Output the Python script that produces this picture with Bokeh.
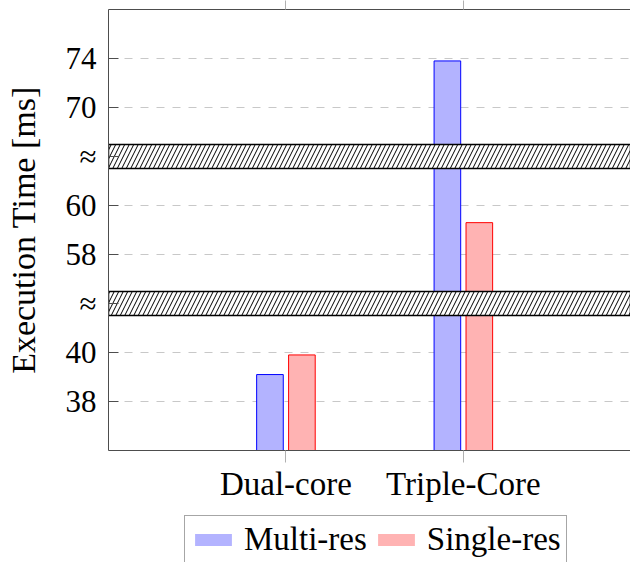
import numpy as np
from bokeh.plotting import figure
from bokeh.layouts import column
from bokeh.models import (FixedTicker, Range1d, LinearAxis, Legend, LegendItem,
                          ColumnDataSource)
from bokeh.embed import file_html
from bokeh.resources import INLINE

# ---- data ----
categories = ["Dual-core", "Triple-Core"]
multi_res = [39.1, 73.8]
single_res = [39.9, 59.3]
tick_labels = ["38", "40", "≈", "58", "60", "≈", "70", "74"]

FONT = "Liberation Serif"
FS_TICK = "31px"
FS_TEXT = "33px"
FS_YLAB = "34px"
BLUE_FILL, BLUE_LINE = "#b3b3ff", "#0000ff"
RED_FILL, RED_LINE = "#ffb3b3", "#ff0000"
AXIS_COL = "#4d4d4d"
TICK_GRAY = "#b0b0b0"

# broken-axis mapping: numeric ticks -> display positions (index in tick list)
tick_pos = list(range(len(tick_labels)))
num_vals = [float(t) for t in tick_labels if t != "≈"]
num_pos = [i for i, t in zip(tick_pos, tick_labels) if t != "≈"]
break_pos = [i for i, t in zip(tick_pos, tick_labels) if t == "≈"]


def to_disp(v):
    return np.interp(v, num_vals, num_pos)


x_cat = np.arange(1, len(categories) + 1)
y_start, y_end = -1.0, 8.0
x_start, x_end = 0.0, 2.942

p = figure(width=630, height=515, output_backend="svg", toolbar_location=None,
           x_range=Range1d(x_start, x_end), y_range=Range1d(y_start, y_end),
           min_border_left=108, min_border_right=0, min_border_top=9,
           min_border_bottom=65, x_axis_location=None, y_axis_location=None)
p.outline_line_color = None
p.background_fill_color = "white"
p.border_fill_color = "white"

# axes
yaxis = LinearAxis(ticker=FixedTicker(ticks=tick_pos),
                   major_label_overrides={i: t for i, t in zip(tick_pos, tick_labels)},
                   axis_label="Execution Time [ms]")
yaxis.axis_label_text_font = FONT
yaxis.axis_label_text_font_size = FS_YLAB
yaxis.axis_label_text_font_style = "normal"
yaxis.axis_label_text_color = "black"
yaxis.axis_label_standoff = 21
yaxis.major_label_text_font = FONT
yaxis.major_label_text_font_size = FS_TICK
yaxis.major_label_text_color = "black"
yaxis.major_label_standoff = 12
yaxis.major_tick_in = 10
yaxis.major_tick_out = 0
yaxis.minor_tick_line_color = None
yaxis.axis_line_color = AXIS_COL
yaxis.major_tick_line_color = AXIS_COL
p.add_layout(yaxis, "left")

xaxis = LinearAxis(ticker=FixedTicker(ticks=list(x_cat)),
                   major_label_overrides={int(i): c for i, c in zip(x_cat, categories)})
xaxis.major_label_text_font = FONT
xaxis.major_label_text_font_size = FS_TEXT
xaxis.major_label_text_color = "black"
xaxis.major_label_standoff = 3
xaxis.major_tick_in = 0
xaxis.major_tick_out = 12
xaxis.major_tick_line_color = TICK_GRAY
xaxis.minor_tick_line_color = None
xaxis.axis_line_color = AXIS_COL
p.add_layout(xaxis, "below")

# top border with outward tick marks, no labels
top_axis = LinearAxis(ticker=FixedTicker(ticks=list(x_cat)),
                      major_label_overrides={int(i): "" for i in x_cat})
top_axis.major_label_text_font_size = "1px"
top_axis.major_label_text_alpha = 0
top_axis.major_label_standoff = 0
top_axis.major_tick_in = 0
top_axis.major_tick_out = 9
top_axis.major_tick_line_color = TICK_GRAY
top_axis.minor_tick_line_color = None
top_axis.axis_line_color = AXIS_COL
p.add_layout(top_axis, "above")

p.xgrid.visible = False
p.ygrid.ticker = FixedTicker(ticks=tick_pos)
p.ygrid.grid_line_color = "#c8c8c8"
p.ygrid.grid_line_dash = "8 8"
p.ygrid.grid_line_width = 1

# bars
off, w = 0.09, 0.15
src = ColumnDataSource(dict(
    xm=x_cat - off, xs=x_cat + off,
    ym=to_disp(multi_res), ys=to_disp(single_res)))
p.vbar(x="xm", top="ym", bottom=y_start, width=w, source=src,
       fill_color=BLUE_FILL, line_color=BLUE_LINE, line_width=1)
p.vbar(x="xs", top="ys", bottom=y_start, width=w, source=src,
       fill_color=RED_FILL, line_color=RED_LINE, line_width=1)

# break bands
band_h = 0.245
bsrc = ColumnDataSource(dict(
    left=[x_start] * len(break_pos), right=[x_end] * len(break_pos),
    bottom=[b - band_h for b in break_pos], top=[b + band_h for b in break_pos]))
p.quad(left="left", right="right", bottom="bottom", top="top", source=bsrc,
       fill_color="white", line_color="black", line_width=1.5,
       hatch_pattern="/", hatch_color="black", hatch_scale=9, hatch_weight=1)

# legend strip below the plot (swatches without border)
lg = figure(width=630, height=47, output_backend="svg", toolbar_location=None,
            x_range=Range1d(-3, -2), y_range=Range1d(-3, -2),
            min_border=0, x_axis_location=None, y_axis_location=None)
lg.outline_line_color = None
lg.xgrid.visible = False
lg.ygrid.visible = False
rm = lg.vbar(x="xm", top="ym", bottom=y_start, width=w, source=src,
             fill_color=BLUE_FILL, line_alpha=0)
rs = lg.vbar(x="xs", top="ys", bottom=y_start, width=w, source=src,
             fill_color=RED_FILL, line_alpha=0)
legend = Legend(items=[LegendItem(label="Multi-res", renderers=[rm]),
                       LegendItem(label="Single-res", renderers=[rs])],
                orientation="horizontal", location=(76, -2))
legend.label_text_font = FONT
legend.label_text_font_size = FS_TEXT
legend.label_text_color = "black"
legend.glyph_width = 46
legend.glyph_height = 15
legend.label_standoff = 8
legend.spacing = 6
legend.padding = 5
legend.margin = 0
legend.border_line_color = AXIS_COL
legend.border_line_width = 1
legend.background_fill_alpha = 1
lg.add_layout(legend, "center")

layout = column(p, lg, spacing=0)
open("out.html", "w").write(file_html(layout, INLINE))
